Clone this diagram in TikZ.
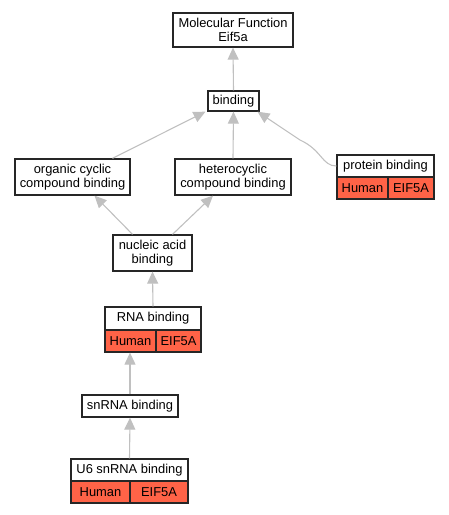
\documentclass[tikz,border=0pt]{standalone}
\usepackage{fontspec}
\setmainfont{Liberation Sans}
\usetikzlibrary{arrows.meta,calc}
\definecolor{edgegray}{RGB}{192,192,192}
\definecolor{cellred}{RGB}{255,99,71}
\begin{document}
\begin{tikzpicture}[x=1pt,y=-1pt,
  every node/.style={font=\fontsize{12.9}{13.5}\selectfont, inner sep=0pt, align=center},
  box/.style={draw=black!85, line width=1.3pt, fill=white},
  cell/.style={draw=black!85, line width=1.3pt, fill=cellred},
  edge/.style={draw=edgegray, line width=1.1pt, -{Triangle[length=12pt,width=11pt]}}]
\useasboundingbox (0,0) rectangle (449,515);
\node[box, minimum width=120pt, minimum height=34pt] (mf) at (233,30) {Molecular Function\\Eif5a};
\node[box, minimum width=51pt, minimum height=20pt] (bind) at (233.5,101) {binding};
\node[box, minimum width=115pt, minimum height=36pt] (org) at (72.5,177) {organic cyclic\\compound binding};
\node[box, minimum width=116pt, minimum height=36pt] (het) at (233,177) {heterocyclic\\compound binding};
\node[box, minimum width=97pt, minimum height=22pt] (prot) at (385.5,166) {protein binding};
\node[cell, minimum width=51pt, minimum height=22pt] (protA) at (362.5,188) {Human};
\node[cell, minimum width=46pt, minimum height=22pt] (protB) at (411,188) {EIF5A};
\node[box, minimum width=79pt, minimum height=36pt] (nuc) at (152.5,253) {nucleic acid\\binding};
\node[box, minimum width=96pt, minimum height=23pt] (rna) at (153,318.5) {RNA binding};
\node[cell, minimum width=51pt, minimum height=22pt] (rnaA) at (130.5,341) {Human};
\node[cell, minimum width=45pt, minimum height=22pt] (rnaB) at (178.5,341) {EIF5A};
\node[box, minimum width=96pt, minimum height=22pt] (sn) at (130,406) {snRNA binding};
\node[box, minimum width=117pt, minimum height=22pt] (u6) at (129.5,470) {U6 snRNA binding};
\node[cell, minimum width=59pt, minimum height=22pt] (u6A) at (100.5,492) {Human};
\node[cell, minimum width=58pt, minimum height=22pt] (u6B) at (159,492) {EIF5A};
\draw[edge] (bind.north) -- (mf.south);
\draw[edge] ([xshift=40pt]org.north) -- ([xshift=-28pt]bind.south);
\draw[edge] (het.north) -- (bind.south);
\draw[edge] (prot.west) .. controls (322,166) and (322,150) .. (300,140) -- ([xshift=24pt]bind.south);
\draw[edge] ([xshift=-20pt]nuc.north) -- ([xshift=22pt]org.south);
\draw[edge] ([xshift=20pt]nuc.north) -- ([xshift=-20pt]het.south);
\draw[edge] (rna.north) -- (nuc.south);
\draw[edge] (sn.north) -- (sn.north |- rnaA.south);
\draw[edge] (u6.north) -- (sn.south);
\end{tikzpicture}
\end{document}
